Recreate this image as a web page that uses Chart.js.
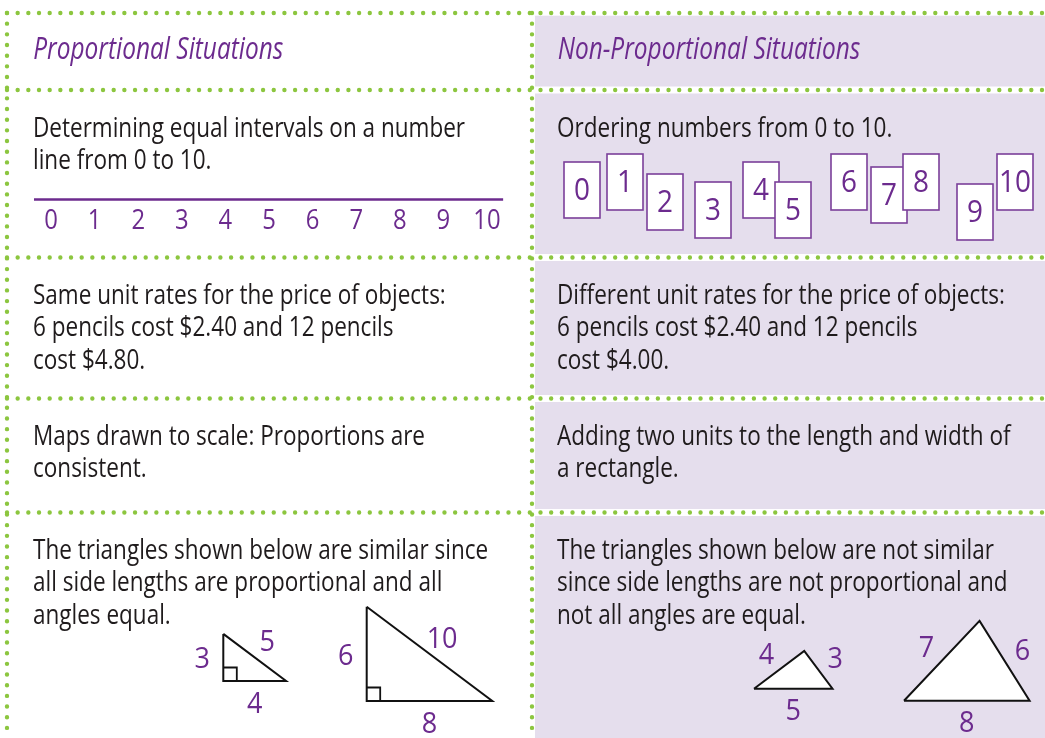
<!DOCTYPE html>
<html>
<head>
<meta charset="utf-8">
<script src="https://cdn.jsdelivr.net/npm/chart.js@4"></script>
<style>
html, body { margin: 0; padding: 0; background: #fff; }
canvas { display: block; }
</style>
</head>
<body>
<canvas id="chart" width="1045" height="738"></canvas>
<script>
// table content
const headers = ["Proportional Situations", "Non-Proportional Situations"];
const leftCells = [
    ["Determining equal intervals on a number", "line from 0 to 10."],
    ["Same unit rates for the price of objects:", "6 pencils cost $2.40 and 12 pencils", "cost $4.80."],
    ["Maps drawn to scale: Proportions are", "consistent."],
    ["The triangles shown below are similar since", "all side lengths are proportional and all", "angles equal."]
];
const rightCells = [
    ["Ordering numbers from 0 to 10."],
    ["Different unit rates for the price of objects:", "6 pencils cost $2.40 and 12 pencils", "cost $4.00."],
    ["Adding two units to the length and width of", "a rectangle."],
    ["The triangles shown below are not similar", "since side lengths are not proportional and", "not all angles are equal."]
];
const numberLineTicks = [0, 1, 2, 3, 4, 5, 6, 7, 8, 9, 10];
const cardLabels = ["0", "1", "2", "3", "4", "5", "6", "7", "8", "9", "10"];
// side lengths: right triangles = vertical leg, horizontal leg, hypotenuse
const similarSmall = [3, 4, 5];
const similarLarge = [6, 8, 10];
// other triangles = left side, right side, base
const notSimilarSmall = [4, 3, 5];
const notSimilarLarge = [7, 6, 8];

// layout
const W = 1045, H = 738;
const rowLines = [13, 90, 257.5, 398.5, 512.5];
const colLines = [7, 532];
const dotGap = 10.67;
const unit = 15.7; // px per side-length unit
const tickStep = 43.6, tickZero = 51;
const cardSpots = [[564, 162], [607, 154], [647, 174], [695, 182], [743, 162], [775, 182],
                   [831, 154], [871, 167], [903, 154], [957, 184], [997, 154]];
const cardW = 36, cardH = 56;

const green = '#8cc63f';
const purple = '#6c2b8e';
const lavender = '#e5deed';
const ink = '#1f1b1c';
const fontFamily = '"Open Sans", sans-serif';

function dotted(points) {
    return {
        data: points,
        showLine: true,
        borderColor: green,
        borderWidth: 4.4,
        borderDash: [0, dotGap],
        borderCapStyle: 'round',
        pointRadius: 0,
        clip: false
    };
}

function outline(points, color, width, fillColor) {
    return {
        data: points,
        showLine: true,
        borderColor: color,
        borderWidth: width,
        borderJoinStyle: 'miter',
        pointRadius: 0,
        clip: false,
        shapeFill: fillColor
    };
}

// right triangle from legs, anchored at the right angle corner
function rightTriangle(sides, cx, cy) {
    const top = {x: cx, y: cy - sides[0] * unit};
    const corner = {x: cx, y: cy};
    const right = {x: cx + sides[1] * unit, y: cy};
    return [top, corner, right, top];
}

// triangle from three sides, anchored at left base vertex
function sideTriangle(sides, lx, ly) {
    const [a, b, c] = sides;
    const d = (a * a - b * b + c * c) / (2 * c);
    const h = Math.sqrt(a * a - d * d);
    const left = {x: lx, y: ly};
    const apex = {x: lx + d * unit, y: ly - h * unit};
    const right = {x: lx + c * unit, y: ly};
    return [left, apex, right, left];
}

const triangles = [
    {pts: rightTriangle(similarSmall, 223.3, 681), labels: similarSmall, corner: true},
    {pts: rightTriangle(similarLarge, 366.7, 701), labels: similarLarge, corner: true},
    {pts: sideTriangle(notSimilarSmall, 754, 688.7), labels: notSimilarSmall, corner: false},
    {pts: sideTriangle(notSimilarLarge, 904, 700.7), labels: notSimilarLarge, corner: false}
];

const datasets = [];
rowLines.forEach(yv => datasets.push(dotted([{x: colLines[0], y: yv}, {x: W, y: yv}])));
colLines.forEach(xv => datasets.push(dotted([{x: xv, y: rowLines[0]}, {x: xv, y: H}])));

// number line on its own scale
datasets.push({
    data: [{x: -0.39, y: 199.5}, {x: 10.37, y: 199.5}],
    xAxisID: 'xn',
    showLine: true,
    borderColor: purple,
    borderWidth: 2.6,
    pointRadius: 0
});

triangles.forEach(t => {
    datasets.push(outline(t.pts, '#111', 2, '#fff'));
    if (t.corner) {
        const c = t.pts[1], s = 13.5;
        datasets.push(outline([{x: c.x, y: c.y - s}, {x: c.x + s, y: c.y - s}, {x: c.x + s, y: c.y}], '#111', 1.8));
    }
});

let bodyScale = 1, headScale = 1;

function drawText(ctx, str, px, py, font, color, sx, align) {
    ctx.save();
    ctx.font = font;
    ctx.fillStyle = color;
    ctx.textBaseline = 'alphabetic';
    ctx.textAlign = align || 'left';
    ctx.translate(px, py);
    ctx.scale(sx, 1);
    ctx.fillText(str, 0, 0);
    ctx.restore();
}

// digit centred on a point
function drawDigit(ctx, str, px, py, size) {
    drawText(ctx, str, px, py + size * 0.357, size + 'px ' + fontFamily, purple, 0.9, 'center');
}

const tablePlugin = {
    id: 'table',
    beforeDatasetsDraw(chart) {
        const {ctx, scales: {x, y}} = chart;
        ctx.save();
        ctx.fillStyle = lavender;
        for (let i = 0; i < rowLines.length; i++) {
            const top = y.getPixelForValue(rowLines[i] + (i === 0 ? 2.7 : 3.5));
            const bottom = y.getPixelForValue(i + 1 < rowLines.length ? rowLines[i + 1] - 3.5 : H);
            const left = x.getPixelForValue(colLines[1] + 3);
            const right = x.getPixelForValue(W);
            ctx.fillRect(left, top, right - left, bottom - top);
        }
        chart.data.datasets.forEach((ds, i) => {
            if (!ds.shapeFill) return;
            const pts = chart.getDatasetMeta(i).data;
            ctx.beginPath();
            pts.forEach((p, k) => k ? ctx.lineTo(p.x, p.y) : ctx.moveTo(p.x, p.y));
            ctx.closePath();
            ctx.fillStyle = ds.shapeFill;
            ctx.fill();
        });
        ctx.restore();
    },
    afterDatasetsDraw(chart) {
        const {ctx, scales: {x, y, xn}} = chart;
        const bodyFont = '26.5px ' + fontFamily;
        const headFont = 'italic 30.5px ' + fontFamily;
        ctx.save();
        ctx.font = bodyFont;
        bodyScale = 432 / ctx.measureText(leftCells[0][0]).width;
        ctx.font = headFont;
        headScale = 250 / ctx.measureText(headers[0]).width;
        ctx.restore();

        // headers
        drawText(ctx, headers[0], x.getPixelForValue(33.3), y.getPixelForValue(59.3), headFont, purple, headScale);
        drawText(ctx, headers[1], x.getPixelForValue(557.7), y.getPixelForValue(59.3), headFont, purple, headScale);

        // body cells
        for (let r = 0; r < leftCells.length; r++) {
            const base = rowLines[r + 1] + 46.5;
            leftCells[r].forEach((line, k) => drawText(ctx, line, x.getPixelForValue(33), y.getPixelForValue(base + k * 32.3), bodyFont, ink, bodyScale));
            rightCells[r].forEach((line, k) => drawText(ctx, line, x.getPixelForValue(557), y.getPixelForValue(base + k * 32.3), bodyFont, ink, bodyScale));
        }

        // number line labels
        numberLineTicks.forEach(v => drawDigit(ctx, String(v), xn.getPixelForValue(v), y.getPixelForValue(219.2), 26.5));

        // cards
        cardLabels.forEach((lab, i) => {
            const [cx, cy] = cardSpots[i];
            const l = x.getPixelForValue(cx), t = y.getPixelForValue(cy);
            const w = x.getPixelForValue(cx + cardW) - l, h = y.getPixelForValue(cy + cardH) - t;
            ctx.save();
            ctx.fillStyle = '#fff';
            ctx.strokeStyle = '#7b3f99';
            ctx.lineWidth = 1.6;
            ctx.fillRect(l, t, w, h);
            ctx.strokeRect(l, t, w, h);
            ctx.restore();
        });
        cardLabels.forEach((lab, i) => {
            const [cx, cy] = cardSpots[i];
            drawDigit(ctx, lab, x.getPixelForValue(cx + cardW / 2), y.getPixelForValue(cy + cardH / 2 - 1.5), 31);
        });

        // triangle side labels
        triangles.forEach(t => {
            const p = t.pts;
            const gx = (p[0].x + p[1].x + p[2].x) / 3, gy = (p[0].y + p[1].y + p[2].y) / 3;
            for (let s = 0; s < 3; s++) {
                const a = p[s], b = p[s + 1];
                const mx = (a.x + b.x) / 2, my = (a.y + b.y) / 2;
                const len = Math.hypot(b.x - a.x, b.y - a.y);
                let nx = (b.y - a.y) / len, ny = -(b.x - a.x) / len;
                if (nx * (mx - gx) + ny * (my - gy) < 0) { nx = -nx; ny = -ny; }
                const off = 21;
                drawDigit(ctx, String(t.labels[s]), x.getPixelForValue(mx + nx * off), y.getPixelForValue(my + ny * off), 30);
            }
        });
    }
};

new Chart(document.getElementById('chart').getContext('2d'), {
    type: 'scatter',
    data: {datasets: datasets},
    options: {
        responsive: false,
        animation: false,
        devicePixelRatio: 1,
        layout: {padding: 0},
        plugins: {legend: {display: false}, tooltip: {enabled: false}},
        scales: {
            x: {type: 'linear', min: 0, max: W, display: false},
            xn: {type: 'linear', axis: 'x', min: -tickZero / tickStep, max: (W - tickZero) / tickStep, display: false},
            y: {type: 'linear', min: 0, max: H, reverse: true, display: false}
        }
    },
    plugins: [tablePlugin]
});
</script>
</body>
</html>
